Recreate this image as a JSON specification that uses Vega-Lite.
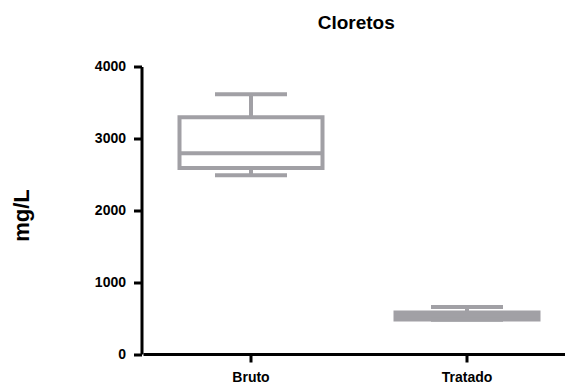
{
  "$schema": "https://vega.github.io/schema/vega-lite/v6.json",
  "width": 423.5,
  "height": 287.5,
  "autosize": {"type": "none"},
  "padding": {"left": 141.5, "top": 66.5, "right": 0, "bottom": 33},
  "background": "white",
  "title": {
    "text": "Cloretos",
    "font": "Liberation Sans",
    "fontSize": 19,
    "fontWeight": "bold",
    "color": "black",
    "anchor": "middle",
    "frame": "group",
    "baseline": "alphabetic",
    "offset": 12,
    "dx": 3
  },
  "config": {
    "view": {"stroke": null},
    "axis": {
      "labelFont": "Liberation Sans",
      "labelFontWeight": "bold",
      "labelFontSize": 14,
      "labelColor": "black",
      "titleFont": "Liberation Sans",
      "titleFontWeight": "bold",
      "titleColor": "black",
      "domainColor": "black",
      "domainWidth": 3,
      "tickColor": "black",
      "tickWidth": 3,
      "tickSize": 8,
      "grid": false
    }
  },
  "data": {
    "values": [
      {"group": "Bruto", "min": 2488, "q1": 2588, "median": 2792, "q3": 3295, "max": 3613},
      {"group": "Tratado", "min": 475, "q1": 480, "median": 529, "q3": 577, "max": 654}
    ]
  },
  "encoding": {
    "x": {
      "field": "group",
      "type": "nominal",
      "sort": ["Bruto", "Tratado"],
      "scale": {"range": [1.5, 433.5], "paddingInner": 0, "paddingOuter": 0},
      "axis": {"title": null, "labelAngle": 0, "labelPadding": 8, "labelBaseline": "top"}
    }
  },
  "layer": [
    {
      "mark": {"type": "rule", "color": "#a1a0a5", "strokeWidth": 4},
      "encoding": {
        "y": {
          "field": "q3",
          "type": "quantitative",
          "scale": {"domain": [0, 4000], "nice": false},
          "axis": {
            "title": "mg/L",
            "format": "d",
            "values": [0, 1000, 2000, 3000, 4000],
            "labelPadding": 8,
            "titleFontSize": 22,
            "titleAngle": -90,
            "titleX": -113,
            "titleY": 148.5,
            "titleAlign": "center",
            "titleBaseline": "alphabetic"
          }
        },
        "y2": {"field": "max"}
      }
    },
    {
      "mark": {"type": "rule", "color": "#a1a0a5", "strokeWidth": 4},
      "encoding": {
        "y": {"field": "min", "type": "quantitative"},
        "y2": {"field": "q1"}
      }
    },
    {
      "mark": {"type": "bar", "fill": "white", "stroke": "#a1a0a5", "strokeWidth": 4, "size": 143},
      "encoding": {
        "y": {"field": "q1", "type": "quantitative"},
        "y2": {"field": "q3"}
      }
    },
    {
      "mark": {"type": "tick", "color": "#a1a0a5", "thickness": 4, "size": 143, "opacity": 1},
      "encoding": {
        "y": {"field": "median", "type": "quantitative"}
      }
    },
    {
      "mark": {"type": "tick", "color": "#a1a0a5", "thickness": 4, "size": 72, "opacity": 1},
      "encoding": {
        "y": {"field": "max", "type": "quantitative"}
      }
    },
    {
      "mark": {"type": "tick", "color": "#a1a0a5", "thickness": 4, "size": 72, "opacity": 1},
      "encoding": {
        "y": {"field": "min", "type": "quantitative"}
      }
    }
  ]
}
